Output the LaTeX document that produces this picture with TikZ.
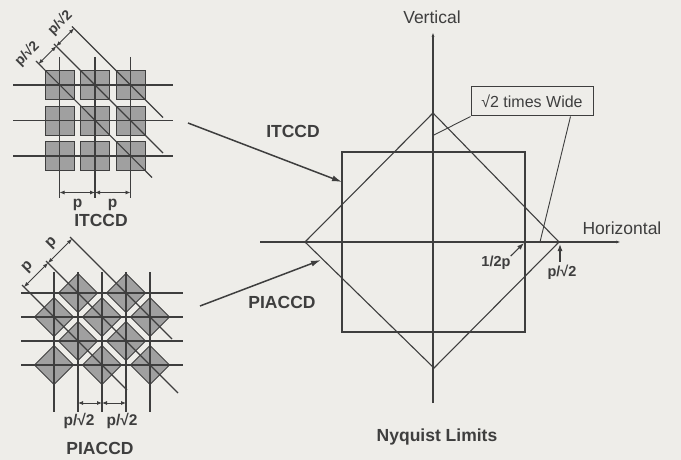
\documentclass[tikz,border=0pt]{standalone}
\usepackage{fontspec}
\setmainfont{Liberation Sans}
\usetikzlibrary{arrows.meta,positioning,calc}
\definecolor{ScanBg}{RGB}{238,237,233}
\definecolor{Ink}{RGB}{62,62,62}
\definecolor{CellFill}{RGB}{160,160,160}

\begin{document}
\begin{tikzpicture}[x=1pt,y=-1pt,
  gridline/.style={draw=Ink,line width=1.1pt},
  cell/.style={fill=CellFill,draw=Ink,line width=0.9pt},
  dimarrow/.style={draw=Ink,line width=0.8pt,{Latex[length=5pt,width=4pt]}-{Latex[length=5pt,width=4pt]}},
  pointer/.style={draw=Ink,line width=1.5pt,-{Latex[length=10pt,width=6pt]}},
  tick/.style={draw=Ink,line width=1.1pt,-{Latex[length=7pt,width=5pt]}},
  axis/.style={draw=Ink,line width=1.1pt,-{Latex[length=5pt,width=3pt]}},
  headlbl/.style={font=\fontsize{17.5}{20}\selectfont\bfseries,text=Ink,inner sep=0pt},
  axislbl/.style={font=\fontsize{17.5}{20}\selectfont,text=Ink,inner sep=0pt},
  dimlbl/.style={font=\fontsize{15.5}{18}\selectfont\bfseries,text=Ink,inner sep=0pt},
  marklbl/.style={font=\fontsize{14.5}{17}\selectfont\bfseries,text=Ink,inner sep=0pt}
]
\fill[ScanBg] (0,0) rectangle (681,460);
\useasboundingbox (0,0) rectangle (681,460);

% ITCCD cell array
\foreach \cx in {59.5,95,130.5}
  \foreach \cy in {85,120.5,156}
    \draw[cell] (\cx-14.5,\cy-14.5) rectangle (\cx+14.5,\cy+14.5);
\foreach \cy in {85,120.5,156}
  \draw[gridline] (13,\cy) -- (173,\cy);
\foreach \cx in {59.5,95,130.5}
  \draw[gridline] (\cx,57) -- (\cx,198);
\draw[gridline] (36,61) -- (152,177.5);
\draw[gridline] (54,44) -- (163,153);
\draw[gridline] (72,26.5) -- (163,117.5);

\coordinate (itA) at (38.5,64);
\coordinate (itB) at (56.25,46.25);
\coordinate (itC) at (74,28.5);
\draw[dimarrow] (itA) -- (itB);
\draw[dimarrow] (itB) -- (itC);
\node[dimlbl,font=\fontsize{14}{16}\selectfont\bfseries,rotate=45] (itd1) at (27,54) {p/√2};
\node[dimlbl,font=\fontsize{14}{16}\selectfont\bfseries,rotate=45] (itd2) at (60,23) {p/√2};

\coordinate (itL) at (59.5,192.5);
\coordinate (itM) at (95,192.5);
\coordinate (itR) at (130.5,192.5);
\draw[dimarrow] (itL) -- (itM);
\draw[dimarrow] (itM) -- (itR);
\node[dimlbl] (itp1) at (77.5,205) {p};
\node[dimlbl] (itp2) at (112.5,205) {p};
\node[headlbl] (itname) at (101,220) {ITCCD};

% PIACCD cell array
\foreach \c/\r in {1/0,3/0,0/1,2/1,4/1,1/2,3/2,0/3,2/3,4/3}
  \draw[cell] (54+24*\c,273.5+24*\r) -- ++(19.5,19.5) -- ++(-19.5,19.5)
    -- ++(-19.5,-19.5) -- cycle;
\foreach \cy in {293,317,341,365}
  \draw[gridline] (21,\cy) -- (183,\cy);
\foreach \cx in {54,78,102,126,150}
  \draw[gridline] (\cx,272) -- (\cx,412);
\draw[gridline] (22,285) -- (127,390);
\draw[gridline] (46,261) -- (178,393);
\draw[gridline] (70,237) -- (172,339);

\coordinate (piA) at (24,287);
\coordinate (piB) at (48,263);
\coordinate (piC) at (72,239);
\draw[dimarrow] (piA) -- (piB);
\draw[dimarrow] (piB) -- (piC);
\node[dimlbl,rotate=45] (pid1) at (28,267) {p};
\node[dimlbl,rotate=45] (pid2) at (52,243) {p};

\coordinate (piL) at (78,403);
\coordinate (piM) at (102,403);
\coordinate (piR) at (126,403);
\draw[dimarrow] (piL) -- (piM);
\draw[dimarrow] (piM) -- (piR);
\node[dimlbl] (pip1) at (79,421) {p/√2};
\node[dimlbl] (pip2) at (122,421) {p/√2};
\node[headlbl] (piname) at (100,448) {PIACCD};

% Nyquist limits
\draw[gridline] (342,152) rectangle (525,332);
\draw[gridline] (433,113) -- (559,242) -- (434,368) -- (305,242) -- cycle;
\draw[axis] (433,403) -- (433,32);
\draw[axis] (260,242) -- (621,242);
\draw[draw=Ink,line width=2.8pt] (525,242) -- (559,242);
\node[axislbl] (vlbl) at (432,17) {Vertical};
\node[axislbl] (hlbl) at (622,228) {Horizontal};

\node[headlbl] (itlbl) at (293,131) {ITCCD};
\node[headlbl] (pilbl) at (282,302) {PIACCD};
\coordinate (itFrom) at (188,123);
\coordinate (itTo) at (342,182);
\coordinate (piFrom) at (200,306);
\coordinate (piTo) at (321,260);
\draw[pointer] (itFrom) -- (itTo);
\draw[pointer] (piFrom) -- (piTo);

\node[draw=Ink,line width=1pt,minimum width=122pt,minimum height=29pt,inner sep=0pt,
  font=\fontsize{16}{18}\selectfont,text=Ink] (wide) at (532,101.5) {√2 times Wide};
\coordinate (wideV) at (434,135);
\coordinate (wideH) at (540,242);
\draw[gridline,line width=0.9pt] (wide.south west) -- (wideV);
\draw[gridline,line width=0.9pt] ($(wide.south east)+(-23,0)$) -- (wideH);

\node[marklbl] (half) at (496,263) {1/2p};
\node[marklbl] (diag) at (562,272) {p/√2};
\coordinate (halfTo) at (524,243);
\coordinate (diagTo) at (560,244);
\draw[tick] (half.north east) -- (halfTo);
\draw[tick] ([xshift=-2pt,yshift=3pt]diag.north) -- (diagTo);

\node[headlbl] (nyq) at (437,437) {Nyquist Limits};
\end{tikzpicture}
\end{document}
